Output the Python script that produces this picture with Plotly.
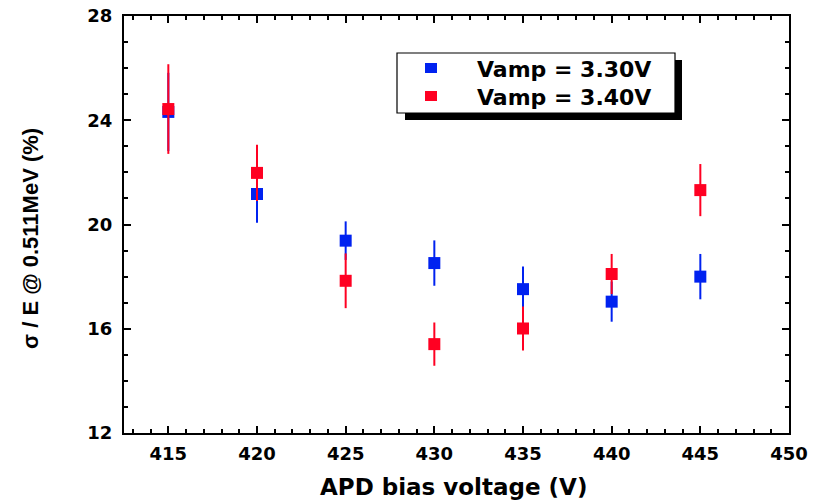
import plotly.graph_objects as go

bias_voltage = [415, 420, 425, 430, 435, 440, 445]
res_330 = [24.32, 21.17, 19.38, 18.52, 17.52, 17.04, 18.00]
err_330 = [1.50, 1.10, 0.74, 0.87, 0.87, 0.77, 0.87]
res_340 = [24.43, 21.98, 17.84, 15.41, 16.01, 18.10, 21.32]
err_340 = [1.72, 1.08, 1.05, 0.83, 0.84, 0.77, 1.00]
series_names = ["Vamp = 3.30V", "Vamp = 3.40V"]
series_colors = ["#0022F0", "#FF0022"]
x_title = "APD bias voltage (V)"
y_title = "σ / E @ 0.511MeV (%)"

WIDE = "DejaVu Sans, sans-serif"
ARIAL = "Liberation Sans, Arial, sans-serif"
L, R, T, B = 124, 28, 16, 67
W, H = 817, 500
pw, ph = W - L - R, H - T - B


def px_x(px):
    return (px - L) / pw


def px_y(py):
    return 1 - (py - T) / ph


fig = go.Figure()
for name, ys, es, col in [
    (series_names[0], res_330, err_330, series_colors[0]),
    (series_names[1], res_340, err_340, series_colors[1]),
]:
    fig.add_trace(go.Scatter(
        x=bias_voltage, y=ys, name=name, mode="markers", showlegend=False,
        marker=dict(symbol="square", size=12, color=col, line=dict(width=0)),
        error_y=dict(type="data", array=es, visible=True, color=col,
                     thickness=2, width=0),
    ))

axis_common = dict(
    showline=True, linecolor="black", linewidth=2, mirror="allticks",
    ticks="inside", ticklen=7, tickwidth=2, tickcolor="black",
    showgrid=False, zeroline=False, automargin=False,
    tickfont=dict(family=WIDE, size=18, color="black", weight="bold"),
    minor=dict(ticks="inside", ticklen=4, tickwidth=1.5, tickcolor="black",
               dtick=1, showgrid=False),
)

fig.update_xaxes(range=[412.5, 450], dtick=5, tick0=415, ticklabelstandoff=3,
                 **axis_common)
fig.update_yaxes(range=[12, 28], dtick=4, tick0=12, ticklabelstandoff=6,
                 **axis_common)

# axis titles
fig.add_annotation(
    text=x_title, xref="paper", yref="paper",
    x=px_x(453), y=px_y(487), xanchor="center", yanchor="middle", showarrow=False,
    font=dict(family=WIDE, size=23, color="black", weight="bold"),
)
fig.add_annotation(
    text=y_title, textangle=-90, xref="paper", yref="paper",
    x=px_x(30), y=px_y(239), xanchor="center", yanchor="middle", showarrow=False,
    font=dict(family=ARIAL, size=22, color="black", weight="bold"),
)

# legend: shadow, box, swatches, labels
fig.add_shape(type="rect", xref="paper", yref="paper",
              x0=px_x(405), x1=px_x(682), y0=px_y(120), y1=px_y(60),
              fillcolor="black", line=dict(width=0), layer="above")
fig.add_shape(type="rect", xref="paper", yref="paper",
              x0=px_x(397), x1=px_x(675), y0=px_y(113), y1=px_y(53),
              fillcolor="white", line=dict(color="black", width=1.2), layer="above")
row_y = [68, 96]
for i, (name, col) in enumerate(zip(series_names, series_colors)):
    fig.add_shape(type="rect", xref="paper", yref="paper",
                  x0=px_x(425), x1=px_x(437), y0=px_y(row_y[i] + 5), y1=px_y(row_y[i] - 5),
                  fillcolor=col, line=dict(width=0), layer="above")
    fig.add_annotation(
        text=name, xref="paper", yref="paper", x=px_x(475), y=px_y(row_y[i] + 1),
        xanchor="left", yanchor="middle", showarrow=False,
        font=dict(family=WIDE, size=22, color="black", weight="bold"),
    )

fig.update_layout(
    width=W, height=H,
    margin=dict(l=L, r=R, t=T, b=B),
    paper_bgcolor="white", plot_bgcolor="white",
    showlegend=False,
)

fig.write_html("out.html")
